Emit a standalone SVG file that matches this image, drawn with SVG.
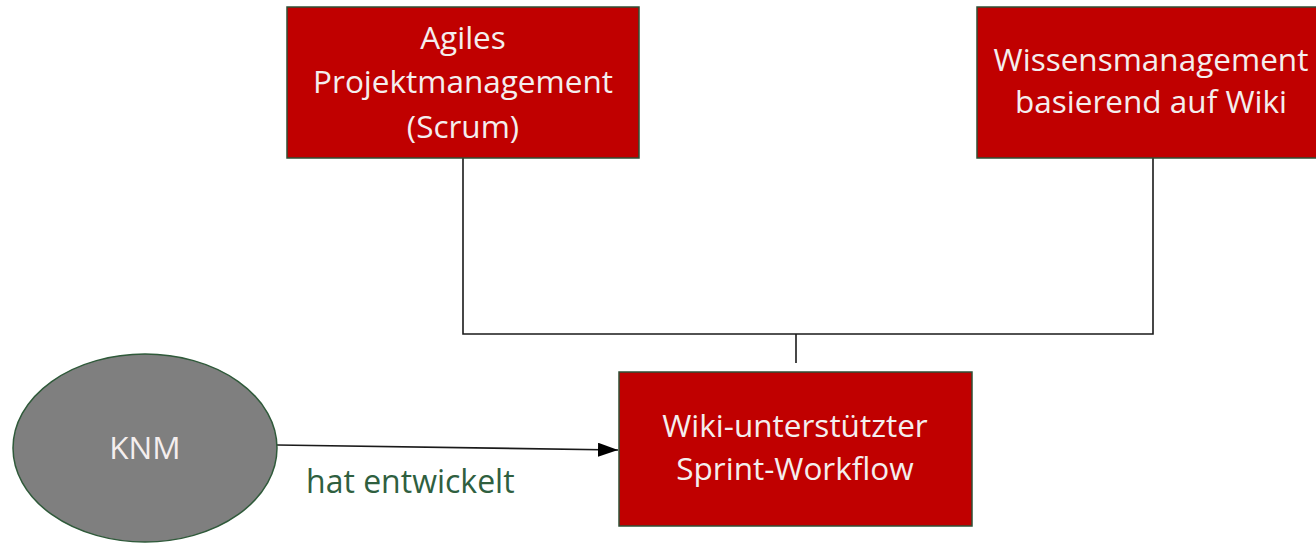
<svg xmlns="http://www.w3.org/2000/svg" width="1316" height="545" viewBox="0 0 1316 545">
<defs>
<style>
.box{fill:#c00000;stroke:#2f4f35;stroke-width:1.5}
.ell{fill:#7f7f7f;stroke:#2f5a3a;stroke-width:1.5}
.t{font-family:"Open Sans","DejaVu Sans",sans-serif;font-size:31.5px;fill:#f4eeee;text-anchor:middle}
.lbl{font-family:"Open Sans","DejaVu Sans",sans-serif;font-size:32px;fill:#2f5f3f}
.c{stroke:#1a1a1a;stroke-width:1.6;fill:none}
</style>
<marker id="arr" viewBox="0 0 20 14" refX="20" refY="7" markerWidth="20" markerHeight="14" markerUnits="userSpaceOnUse" orient="auto">
<path d="M0,0 L20,7 L0,14 Z" fill="#000"/>
</marker>
</defs>
<rect width="1316" height="545" fill="#fff"/>
<g id="connectors">
<polyline class="c" points="463,158 463,334 1153,334 1153,158"/>
<line class="c" x1="796" y1="334" x2="796" y2="363"/>
<line class="c" x1="277" y1="445" x2="618" y2="450" marker-end="url(#arr)"/>
<text class="lbl" x="306" y="493">hat entwickelt</text>
</g>
<g id="agile">
<rect class="box" x="287" y="7" width="352" height="151"/>
<text class="t" x="463" y="49">Agiles</text>
<text class="t" x="463" y="93">Projektmanagement</text>
<text class="t" x="463" y="138">(Scrum)</text>
</g>
<g id="wissen">
<rect class="box" x="977" y="7" width="352" height="151"/>
<text class="t" x="1151" y="71">Wissensmanagement</text>
<text class="t" x="1151" y="113">basierend auf Wiki</text>
</g>
<g id="sprint">
<rect class="box" x="619" y="372" width="353" height="154"/>
<text class="t" x="795" y="437">Wiki-unterstützter</text>
<text class="t" x="795" y="480">Sprint-Workflow</text>
</g>
<g id="knm">
<ellipse class="ell" cx="145" cy="448" rx="132" ry="94"/>
<text class="t" x="145" y="459">KNM</text>
</g>
</svg>
